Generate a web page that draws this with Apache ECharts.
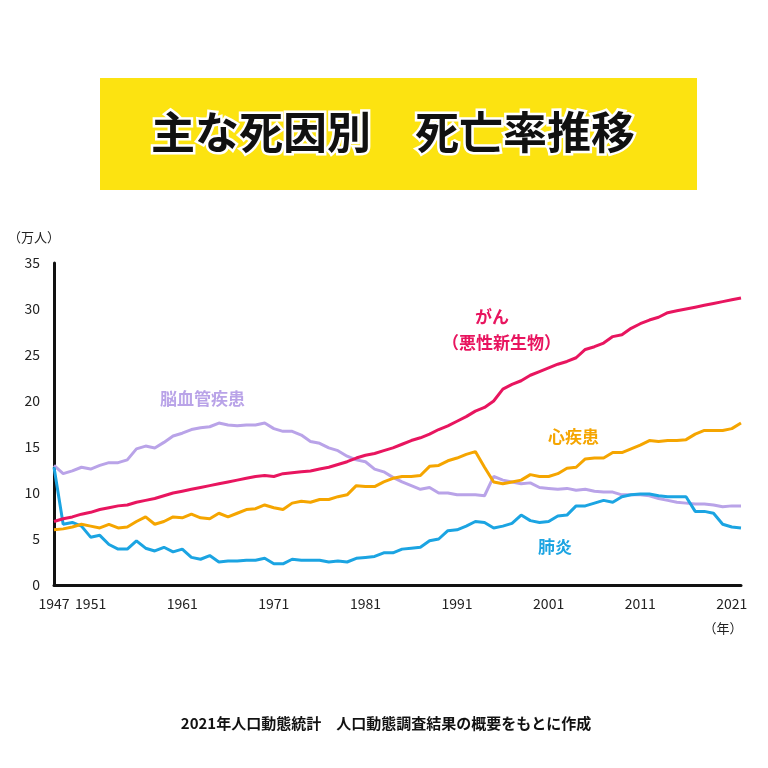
<!DOCTYPE html>
<html><head><meta charset="utf-8">
<script src="https://cdn.jsdelivr.net/npm/echarts@6/dist/echarts.min.js"></script>
<style>html,body{margin:0;background:#fff}#c{width:768px;height:768px}</style>
</head><body><div id="c"></div>
<script>
const startYear = 1947;
const endYear = 2022;
const tickYears = [1947, 1951, 1961, 1971, 1981, 1991, 2001, 2011, 2021];
const cancer = [6.9,7.2,7.4,7.7,7.9,8.2,8.4,8.6,8.7,9.0,9.2,9.4,9.7,10.0,10.2,10.4,10.6,10.8,11.0,11.2,11.4,11.6,11.8,11.9,11.8,12.1,12.2,12.3,12.4,12.6,12.8,13.1,13.4,13.8,14.1,14.3,14.6,14.9,15.3,15.7,16.0,16.4,16.9,17.3,17.8,18.3,18.9,19.3,20.0,21.3,21.8,22.2,22.8,23.2,23.6,24.0,24.3,24.7,25.6,25.9,26.3,27.0,27.2,27.9,28.4,28.8,29.1,29.6,29.8,30.0,30.2,30.4,30.6,30.8,31.0,31.2];
const heart = [6.0,6.1,6.3,6.6,6.4,6.2,6.6,6.2,6.3,6.9,7.4,6.6,6.9,7.4,7.3,7.7,7.3,7.2,7.8,7.4,7.8,8.2,8.3,8.7,8.4,8.2,8.9,9.1,9.0,9.3,9.3,9.6,9.8,10.8,10.7,10.7,11.2,11.6,11.8,11.8,11.9,12.9,13.0,13.5,13.8,14.2,14.5,12.8,11.2,11.0,11.2,11.4,12.0,11.8,11.8,12.1,12.7,12.8,13.7,13.8,13.8,14.4,14.4,14.8,15.2,15.7,15.6,15.7,15.7,15.8,16.4,16.8,16.8,16.8,17.0,17.6];
const stroke = [13.0,12.1,12.4,12.8,12.6,13.0,13.3,13.3,13.6,14.8,15.1,14.9,15.5,16.2,16.5,16.9,17.1,17.2,17.6,17.4,17.3,17.4,17.4,17.6,17.0,16.7,16.7,16.3,15.6,15.4,14.9,14.6,14.0,13.6,13.4,12.6,12.3,11.7,11.2,10.8,10.4,10.6,10.0,10.0,9.8,9.8,9.8,9.7,11.8,11.4,11.2,11.0,11.1,10.6,10.5,10.4,10.5,10.3,10.4,10.2,10.1,10.1,9.8,9.8,9.8,9.7,9.4,9.2,9.0,8.9,8.8,8.8,8.7,8.5,8.6,8.6];
const pneumonia = [12.8,6.6,6.8,6.4,5.2,5.4,4.4,3.9,3.9,4.8,4.0,3.7,4.1,3.6,3.9,3.0,2.8,3.2,2.5,2.6,2.6,2.7,2.7,2.9,2.3,2.3,2.8,2.7,2.7,2.7,2.5,2.6,2.5,2.9,3.0,3.1,3.5,3.5,3.9,4.0,4.1,4.8,5.0,5.9,6.0,6.4,6.9,6.8,6.2,6.4,6.7,7.6,7.0,6.8,6.9,7.5,7.6,8.6,8.6,8.9,9.2,9.0,9.6,9.8,9.9,9.9,9.7,9.6,9.6,9.6,8.0,8.0,7.8,6.6,6.3,6.2];

function pairs(arr) {
    return arr.map((v, i) => [startYear + i, v]);
}
function line(name, data, color) {
    return {name: name, type: 'line', data: pairs(data), symbol: 'none',
        lineStyle: {color: color, width: 3}, itemStyle: {color: color}};
}
const font = '"Noto Sans CJK JP", sans-serif';
const chart = echarts.init(document.getElementById('c'));
chart.setOption({
    animation: false,
    textStyle: {fontFamily: font},
    grid: {left: 54, right: 27, top: 263, bottom: 183},
    xAxis: {
        type: 'value', min: startYear, max: endYear,
        axisLine: {lineStyle: {color: '#111', width: 3}},
        axisTick: {show: false},
        splitLine: {show: false},
        axisLabel: {customValues: tickYears, color: '#222', fontSize: 14, margin: 12, fontFamily: font,
            formatter: v => String(v)}
    },
    yAxis: {
        type: 'value', min: 0, max: 35, interval: 5,
        axisLine: {show: true, lineStyle: {color: '#111', width: 3}},
        axisTick: {show: false},
        splitLine: {show: false},
        axisLabel: {color: '#222', fontSize: 14, margin: 14, fontFamily: font}
    },
    series: [
        line('脳血管疾患', stroke, '#B9A3E8'),
        line('肺炎', pneumonia, '#1BA4E2'),
        line('心疾患', heart, '#F5A500'),
        line('がん', cancer, '#E8155F')
    ],
    graphic: [
        {type: 'rect', shape: {x: 100, y: 78, width: 597, height: 112}, style: {fill: '#FCE311'}},
        {type: 'text', x: 393, y: 132, style: {text: '主な死因別　死亡率推移', fill: '#111', stroke: '#fff', lineWidth: 5,
            font: 'bold 44px ' + font, textAlign: 'center', textVerticalAlign: 'middle'}},
        {type: 'text', x: 8, y: 231, style: {text: '（万人）', fill: '#222', font: '13px ' + font}},
        {type: 'text', x: 723, y: 622, style: {text: '（年）', fill: '#222', font: '13px ' + font, textAlign: 'center'}},
        {type: 'text', x: 475, y: 308, style: {text: 'がん', fill: '#E8155F', font: 'bold 17px ' + font}},
        {type: 'text', x: 442, y: 334, style: {text: '（悪性新生物）', fill: '#E8155F', font: 'bold 17px ' + font}},
        {type: 'text', x: 160, y: 390, style: {text: '脳血管疾患', fill: '#B9A3E8', font: 'bold 17px ' + font}},
        {type: 'text', x: 548, y: 428, style: {text: '心疾患', fill: '#F5A500', font: 'bold 17px ' + font}},
        {type: 'text', x: 538, y: 538, style: {text: '肺炎', fill: '#1BA4E2', font: 'bold 17px ' + font}},
        {type: 'text', x: 386, y: 723, style: {text: '2021年人口動態統計　人口動態調査結果の概要をもとに作成', fill: '#111',
            font: 'bold 15px ' + font, textAlign: 'center', textVerticalAlign: 'middle'}}
    ]
});
</script>
</body></html>
